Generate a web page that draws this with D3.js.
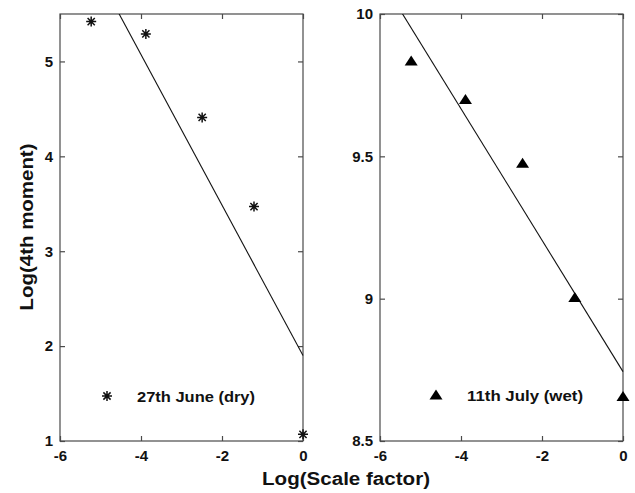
<!DOCTYPE html>
<html><head><meta charset="utf-8">
<script src="https://cdn.jsdelivr.net/npm/d3@7"></script>
<style>
body{margin:0;background:#fff;}
text{font-family:"Liberation Sans",Arial,sans-serif;font-weight:bold;fill:#111;}
</style></head>
<body><svg id="c" width="635" height="493"></svg>
<script>
// ---- data ----
const scaleFactorLog = [-5.23, -3.88, -2.49, -1.21, 0];
const dryMoment = [5.42, 5.29, 4.41, 3.47, 1.07];
const wetScaleLog = [-5.23, -3.89, -2.48, -1.19, 0];
const wetMoment = [9.835, 9.70, 9.476, 9.004, 8.656];
const xTicks = [-6, -4, -2, 0];
const xTickLabels = ["-6", "-4", "-2", "0"];
const dryYTicks = [1, 2, 3, 4, 5];
const dryYTickLabels = ["1", "2", "3", "4", "5"];
const wetYTicks = [8.5, 9, 9.5, 10];
const wetYTickLabels = ["8.5", "9", "9.5", "10"];
const dryLegend = "27th June (dry)";
const wetLegend = "11th July (wet)";
const xLabel = "Log(Scale factor)";
const yLabel = "Log(4th moment)";

const svg = d3.select("#c");
const plotTop = 14, plotBottom = 441;
const AX = "#4a4a4a";

function fit(xs, ys){
  const mx = d3.mean(xs), my = d3.mean(ys);
  let sxy=0, sxx=0;
  xs.forEach((x,i)=>{ sxy += (x-mx)*(ys[i]-my); sxx += (x-mx)*(x-mx); });
  const b = sxy/sxx; return {b, a: my - b*mx};
}

function starPath(r){
  const d = r*0.72;
  return `M${-r},0L${r},0M0,${-r}L0,${r}M${-d},${-d}L${d},${d}M${-d},${d}L${d},${-d}`;
}
function triPath(w,h){
  return `M0,${-h*0.55}L${w/2},${h*0.45}L${-w/2},${h*0.45}Z`;
}

function panel(id, x0, x1, xs, ys, yDomain, yTicks, yTickLabels, marker, legendText, legendMarkerX, legendTextX, legendY, legendTextLen){
  const x = d3.scaleLinear().domain([-6,0]).range([x0,x1]);
  const y = d3.scaleLinear().domain(yDomain).range([plotBottom, plotTop]);
  const g = svg.append("g");

  g.append("rect").attr("x",x0).attr("y",plotTop).attr("width",x1-x0).attr("height",plotBottom-plotTop)
   .attr("fill","none").attr("stroke",AX).attr("stroke-width",1.2);

  const styleAxis = sel => {
    sel.select(".domain").remove();
    sel.selectAll("line").attr("stroke",AX).attr("stroke-width",1.2);
    sel.selectAll("text").attr("fill","#111").style("font-size","15px")
      .style("font-family","'Liberation Sans',Arial,sans-serif").style("font-weight","bold");
  };
  g.append("g").attr("transform",`translate(0,${plotBottom})`)
    .call(d3.axisBottom(x).tickValues(xTicks).tickSizeInner(-5).tickSizeOuter(0).tickPadding(9)
      .tickFormat((d,i)=>xTickLabels[i])).call(styleAxis);
  g.append("g").attr("transform",`translate(0,${plotTop})`)
    .call(d3.axisTop(x).tickValues(xTicks).tickSizeInner(-5).tickSizeOuter(0).tickFormat("")).call(styleAxis);
  g.append("g").attr("transform",`translate(${x0},0)`)
    .call(d3.axisLeft(y).tickValues(yTicks).tickSizeInner(-5).tickSizeOuter(0).tickPadding(7)
      .tickFormat((d,i)=>yTickLabels[i])).call(styleAxis);
  g.append("g").attr("transform",`translate(${x1},0)`)
    .call(d3.axisRight(y).tickValues(yTicks).tickSizeInner(-5).tickSizeOuter(0).tickFormat("")).call(styleAxis);

  svg.append("clipPath").attr("id",id).append("rect")
    .attr("x",x0).attr("y",plotTop).attr("width",x1-x0+2).attr("height",plotBottom-plotTop);
  const f = fit(xs, ys);
  const lx = [-6, 0];
  g.append("path").attr("clip-path",`url(#${id})`)
    .attr("d", d3.line().x(d=>x(d)).y(d=>y(f.a+f.b*d))(lx))
    .attr("fill","none").attr("stroke","#111").attr("stroke-width",1.1);

  const pts = xs.map((v,i)=>[v, ys[i]]);
  if(marker==="star"){
    g.selectAll(".m").data(pts).enter().append("path")
      .attr("transform",d=>`translate(${x(d[0])},${y(d[1])})`)
      .attr("d",starPath(5)).attr("stroke","#111").attr("stroke-width",1.5).attr("fill","none");
    g.append("path").attr("transform",`translate(${legendMarkerX},${legendY})`)
      .attr("d",starPath(5)).attr("stroke","#111").attr("stroke-width",1.5).attr("fill","none");
  } else {
    g.selectAll(".m").data(pts).enter().append("path")
      .attr("transform",d=>`translate(${x(d[0])},${y(d[1])})`)
      .attr("d",triPath(13,10)).attr("fill","#000");
    g.append("path").attr("transform",`translate(${legendMarkerX},${legendY})`)
      .attr("d",triPath(13,10)).attr("fill","#000");
  }
  g.append("text").attr("x",legendTextX).attr("y",legendY+6).style("font-size","14px")
    .attr("textLength",legendTextLen).attr("lengthAdjust","spacingAndGlyphs").text(legendText);
}

panel("clipL", 60, 303, scaleFactorLog, dryMoment, [1,5.5], dryYTicks, dryYTickLabels, "star", dryLegend, 107, 137, 396, 118);
panel("clipR", 380, 623, wetScaleLog, wetMoment, [8.5,10], wetYTicks, wetYTickLabels, "tri", wetLegend, 436, 467, 395, 116);

svg.append("text").attr("x",346).attr("y",485).attr("text-anchor","middle").style("font-size","18px")
  .attr("textLength",168).attr("lengthAdjust","spacingAndGlyphs").text(xLabel);
svg.append("text").attr("transform","translate(33,227) rotate(-90)").attr("text-anchor","middle").style("font-size","18px")
  .attr("textLength",167).attr("lengthAdjust","spacingAndGlyphs").text(yLabel);
</script></body></html>
